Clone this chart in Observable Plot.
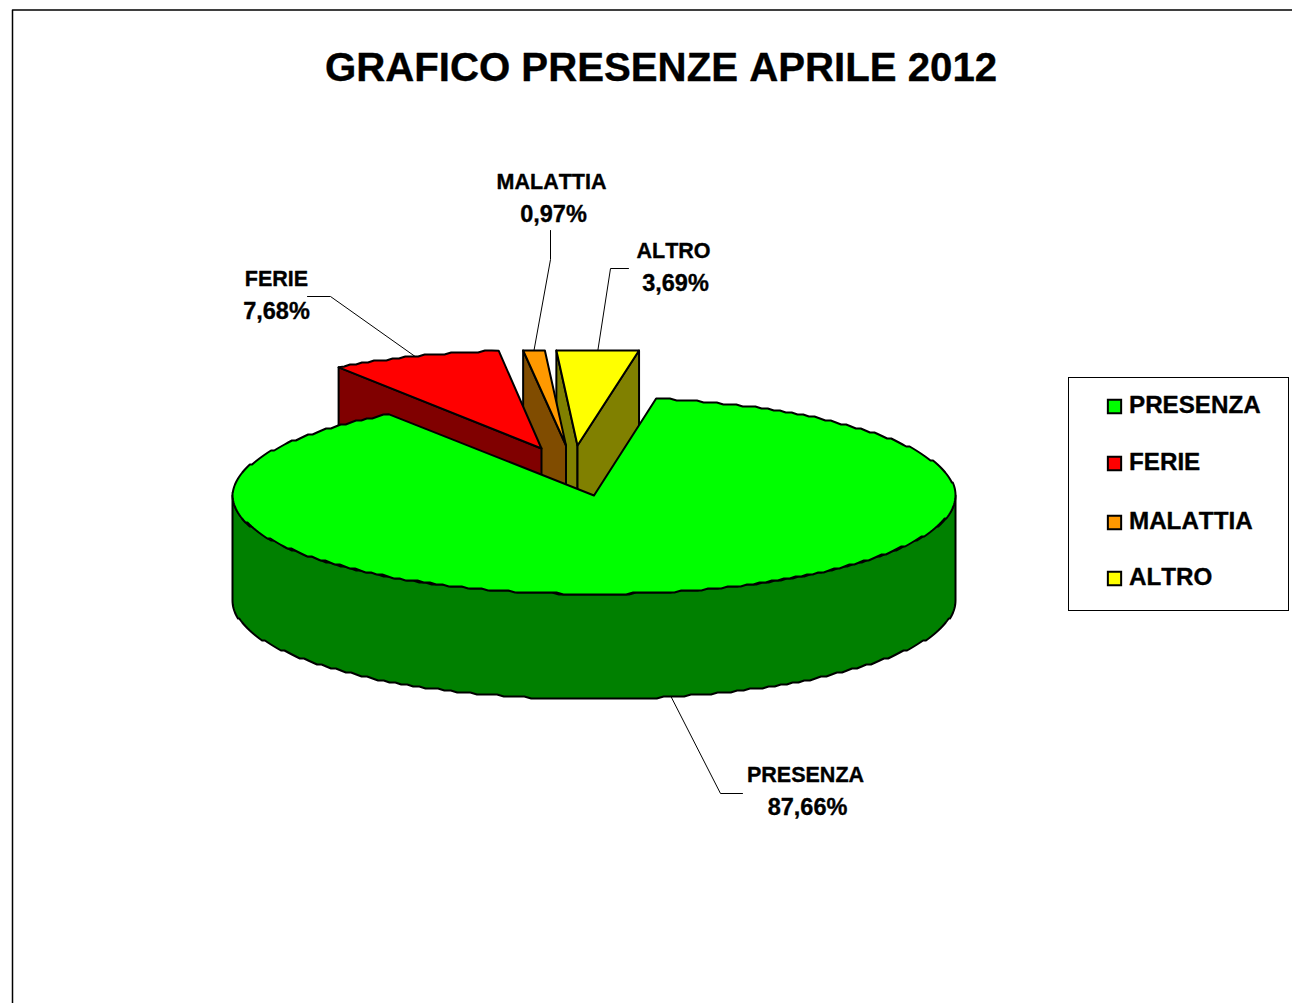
<!DOCTYPE html>
<html>
<head>
<meta charset="utf-8">
<script src="https://cdn.jsdelivr.net/npm/d3@7"></script>
<script src="https://cdn.jsdelivr.net/npm/@observablehq/plot@0.6"></script>
<style>
html,body{margin:0;padding:0;background:#fff}
svg{display:block}
svg text{font-kerning:none}
</style>
</head>
<body>
<div id="chart"></div>
<script>
// Data
const chartTitle = "GRAFICO PRESENZE APRILE 2012";
const categories = ["PRESENZA", "FERIE", "MALATTIA", "ALTRO"];
const shares = [87.66, 7.68, 0.97, 3.69];
const topColors = ["#00ff00", "#ff0000", "#ff9900", "#ffff00"];
const wallColors = ["#008000", "#800000", "#804c00", "#808000"];

// 3D pie projection
const W = 1292, H = 1003;
const cx = 593.5, cy = 495, ry = 98.5, depth = 105;
const radiiX = [361.5, 358, 358, 358];
const firstAngle = 9.9;
const clipTop = 350;            // the exploded slices are cut by the plot area
const stepY = 2;                // the reference's rim is drawn in coarse pixel steps
const rad = Math.PI / 180;
const apexes = [[cx, cy], [541, 448], [565.5, 445], [577, 445]];

let acc = firstAngle;
const slices = categories.map((name, i) => {
  const a0 = acc, a1 = acc + shares[i] * 3.6;
  acc = a1;
  return {name, share: shares[i], a0, a1, mid: (a0 + a1) / 2, apex: apexes[i], rx: radiiX[i], top: topColors[i], wall: wallColors[i]};
});

const onRim = (s, a, dy = 0) => {
  const x = s.apex[0] + s.rx * Math.sin(a * rad);
  const y = s.apex[1] - ry * Math.cos(a * rad);
  return {x, y: (s.name === categories[0] ? y : Math.max(y, clipTop)) + dy};
};
const arc = (s, a0, a1, dy = 0) => {
  const n = Math.max(2, Math.ceil(Math.abs(a1 - a0) * 0.9));
  return d3.range(n + 1).map(k => {
    const p = onRim(s, a0 + (a1 - a0) * k / n, dy);
    return k === 0 || k === n ? p : {x: p.x, y: Math.round(p.y / stepY) * stepY};
  });
};
const apexPt = (s, dy = 0) => ({x: s.apex[0], y: s.apex[1] + dy});
const topFace = s => [apexPt(s), ...arc(s, s.a0, s.a1), apexPt(s)];
const cutFace = (s, a) => {
  const p = onRim(s, a), q = onRim(s, a, depth);
  return [apexPt(s), p, q, apexPt(s, depth), apexPt(s)];
};
const rimFace = (s, a0, a1) => {
  const up = arc(s, a0, a1), down = arc(s, a1, a0, depth);
  return [...up, ...down, up[0]];
};

const edge = {stroke: "#000", strokeWidth: 2, strokeLinejoin: "round"};
const poly = (pts, fill) => Plot.line(pts, {x: "x", y: "y", fill, curve: "linear", ...edge});

const [presenza, ferie, malattia, altro] = slices;
const pieMarks = [
  poly(cutFace(altro, altro.a0), altro.wall),
  poly(cutFace(altro, altro.a1), altro.wall),
  poly(topFace(altro), altro.top),
  poly(cutFace(malattia, malattia.a0), malattia.wall),
  poly(topFace(malattia), malattia.top),
  poly(cutFace(ferie, ferie.a0), ferie.wall),
  poly(topFace(ferie), ferie.top),
  poly(rimFace(presenza, 90, 270), presenza.wall),
  poly(topFace(presenza), presenza.top)
];

// Data labels and leaders
const fmt = v => v.toFixed(2).replace(".", ",") + "%";
const labelAt = [[276, 279, 276, 311], [551, 182, 553, 214], [673, 251, 675, 283], [805, 775, 807, 807]];
const labelOrder = [ferie, malattia, altro, presenza];
const nameLabels = labelOrder.map((s, i) => ({t: s.name, x: labelAt[i][0], y: labelAt[i][1]}));
const valueLabels = labelOrder.map((s, i) => ({t: fmt(s.share), x: labelAt[i][2], y: labelAt[i][3]}));
const leaderElbows = [
  [{x: 307, y: 296}, {x: 330, y: 296}],
  [{x: 550, y: 230}, {x: 550, y: 259}],
  [{x: 628, y: 268}, {x: 610, y: 268}],
  [{x: 742, y: 793}, {x: 720, y: 793}]
];
const leaders = labelOrder.map((s, i) => [
  ...leaderElbows[i],
  s === presenza ? onRim(s, s.mid, depth) : onRim(s, s.mid)
]);

// Legend
const legendY = [406, 463, 522, 578];
const legend = slices.map((s, i) => ({name: s.name, color: s.top, y: legendY[i]}));
const frameLine = {stroke: "#000", strokeWidth: 1.5};
const heavy = {fontWeight: 700, fill: "#000", stroke: "#000", strokeWidth: 0.35};

const chart = Plot.plot({
  width: W, height: H,
  margin: 0,
  style: {background: "#fff", fontFamily: "'Liberation Sans', Arial, sans-serif"},
  x: {domain: [0, W], range: [0, W], axis: null},
  y: {domain: [0, H], range: [0, H], axis: null},
  marks: [
    // chart area frame
    Plot.line([{x: 12, y: H}, {x: 12, y: 9.5}, {x: W, y: 9.5}], {x: "x", y: "y", ...frameLine}),
    ...pieMarks,
    ...leaders.map(l => Plot.line(l, {x: "x", y: "y", stroke: "#000", strokeWidth: 1, curve: "linear"})),
    Plot.text([chartTitle], {x: 660.5, y: 68, text: d => d, fontSize: 40.2, ...heavy}),
    Plot.text(nameLabels, {x: "x", y: "y", text: "t", fontSize: 21.5, ...heavy}),
    Plot.text(valueLabels, {x: "x", y: "y", text: "t", fontSize: 23.5, ...heavy}),
    // legend
    Plot.rect([0], {x1: 1068.5, x2: 1288.5, y1: 377.5, y2: 610.5, fill: "#fff", stroke: "#000", strokeWidth: 1}),
    Plot.dot(legend, {x: 1114, y: "y", symbol: "square", r: 7.5, fill: "color", stroke: "#000", strokeWidth: 2}),
    Plot.text(legend, {x: 1128.5, y: d => d.y - 1, text: "name", textAnchor: "start", fontSize: 24.2, ...heavy})
  ]
});
document.getElementById("chart").append(chart);
</script>
</body>
</html>
